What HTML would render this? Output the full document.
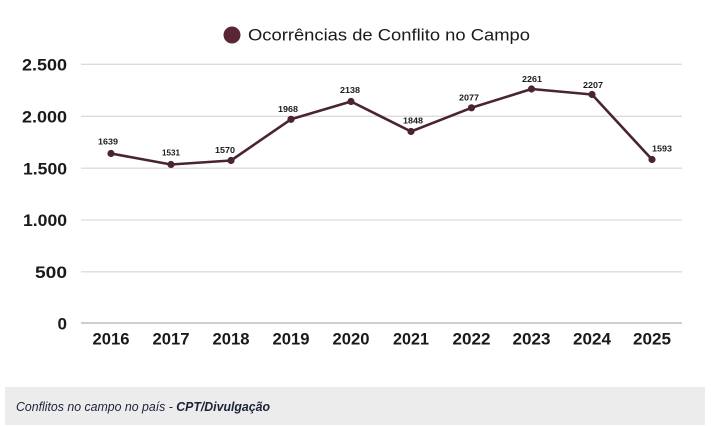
<!DOCTYPE html>
<html><head><meta charset="utf-8"><style>
html,body{margin:0;padding:0;background:#fff;}
svg{display:block;}
</style></head><body>
<svg width="711" height="426" viewBox="0 0 711 426" xmlns="http://www.w3.org/2000/svg">
<rect width="711" height="426" fill="#fff"/>
<!-- legend -->
<circle cx="232" cy="35" r="8.5" fill="#5a2535"/>
<text x="248" y="40.5" font-family="Liberation Sans, sans-serif" font-size="16.5" fill="#1a1a1a" textLength="282" lengthAdjust="spacingAndGlyphs">Ocorrências de Conflito no Campo</text>
<!-- gridlines -->
<g stroke="#dcdcdc" stroke-width="1.3">
<line x1="81" y1="64.3" x2="682" y2="64.3"/>
<line x1="81" y1="116.3" x2="682" y2="116.3"/>
<line x1="81" y1="168.2" x2="682" y2="168.2"/>
<line x1="81" y1="220" x2="682" y2="220"/>
<line x1="81" y1="271.8" x2="682" y2="271.8"/>
</g>
<line x1="81" y1="323" x2="682" y2="323" stroke="#bdbdbd" stroke-width="1.5"/>
<!-- y labels -->
<g font-family="Liberation Sans, sans-serif" font-size="17" font-weight="bold" fill="#1a1a1a" text-anchor="end">
<text x="67" y="70.5" textLength="45" lengthAdjust="spacingAndGlyphs">2.500</text>
<text x="67" y="122.5" textLength="45" lengthAdjust="spacingAndGlyphs">2.000</text>
<text x="67" y="174.5" textLength="44" lengthAdjust="spacingAndGlyphs">1.500</text>
<text x="67" y="226.2" textLength="44" lengthAdjust="spacingAndGlyphs">1.000</text>
<text x="67" y="278" textLength="32" lengthAdjust="spacingAndGlyphs">500</text>
<text x="67" y="329.5">0</text>
</g>
<!-- x labels -->
<g font-family="Liberation Sans, sans-serif" font-size="17" font-weight="bold" fill="#1a1a1a" text-anchor="middle">
<text x="111" y="344.5" textLength="37" lengthAdjust="spacingAndGlyphs">2016</text>
<text x="171" y="344.5" textLength="37" lengthAdjust="spacingAndGlyphs">2017</text>
<text x="231" y="344.5" textLength="37" lengthAdjust="spacingAndGlyphs">2018</text>
<text x="291" y="344.5" textLength="37" lengthAdjust="spacingAndGlyphs">2019</text>
<text x="351" y="344.5" textLength="37" lengthAdjust="spacingAndGlyphs">2020</text>
<text x="411" y="344.5" textLength="36" lengthAdjust="spacingAndGlyphs">2021</text>
<text x="471.5" y="344.5" textLength="38" lengthAdjust="spacingAndGlyphs">2022</text>
<text x="531.5" y="344.5" textLength="38" lengthAdjust="spacingAndGlyphs">2023</text>
<text x="592" y="344.5" textLength="38" lengthAdjust="spacingAndGlyphs">2024</text>
<text x="652" y="344.5" textLength="38" lengthAdjust="spacingAndGlyphs">2025</text>
</g>
<!-- series -->
<polyline fill="none" stroke="#4a2530" stroke-width="2.6" stroke-linejoin="round"
 points="111,153.5 171,164.5 231,160.5 291,119.3 351,101.5 411,131.5 471.5,107.8 531.5,89 592,94.5 652,159.5"/>
<g fill="#4a2530">
<circle cx="111" cy="153.5" r="3.6"/>
<circle cx="171" cy="164.5" r="3.6"/>
<circle cx="231" cy="160.5" r="3.6"/>
<circle cx="291" cy="119.3" r="3.6"/>
<circle cx="351" cy="101.5" r="3.6"/>
<circle cx="411" cy="131.5" r="3.6"/>
<circle cx="471.5" cy="107.8" r="3.6"/>
<circle cx="531.5" cy="89" r="3.6"/>
<circle cx="592" cy="94.5" r="3.6"/>
<circle cx="652" cy="159.5" r="3.6"/>
</g>
<!-- data labels -->
<g font-family="Liberation Sans, sans-serif" font-size="8.5" font-weight="bold" fill="#1a1a1a" text-anchor="middle">
<text x="108" y="144.3" textLength="20" lengthAdjust="spacingAndGlyphs">1639</text>
<text x="171" y="155.3" textLength="18" lengthAdjust="spacingAndGlyphs">1531</text>
<text x="225" y="153" textLength="20" lengthAdjust="spacingAndGlyphs">1570</text>
<text x="288" y="112" textLength="20" lengthAdjust="spacingAndGlyphs">1968</text>
<text x="350" y="93" textLength="20" lengthAdjust="spacingAndGlyphs">2138</text>
<text x="413" y="123.5" textLength="20" lengthAdjust="spacingAndGlyphs">1848</text>
<text x="469" y="100.5" textLength="20" lengthAdjust="spacingAndGlyphs">2077</text>
<text x="532" y="82" textLength="20" lengthAdjust="spacingAndGlyphs">2261</text>
<text x="593" y="88" textLength="20" lengthAdjust="spacingAndGlyphs">2207</text>
<text x="662" y="151.5" textLength="20" lengthAdjust="spacingAndGlyphs">1593</text>
</g>
<!-- caption -->
<rect x="5" y="387" width="700" height="38" fill="#ececec"/>
<text x="16" y="411" font-family="Liberation Sans, sans-serif" font-size="13" font-style="italic" fill="#1c2238" textLength="254" lengthAdjust="spacingAndGlyphs">Conflitos no campo no país - <tspan font-weight="bold">CPT/Divulgação</tspan></text>
</svg>
</body></html>
